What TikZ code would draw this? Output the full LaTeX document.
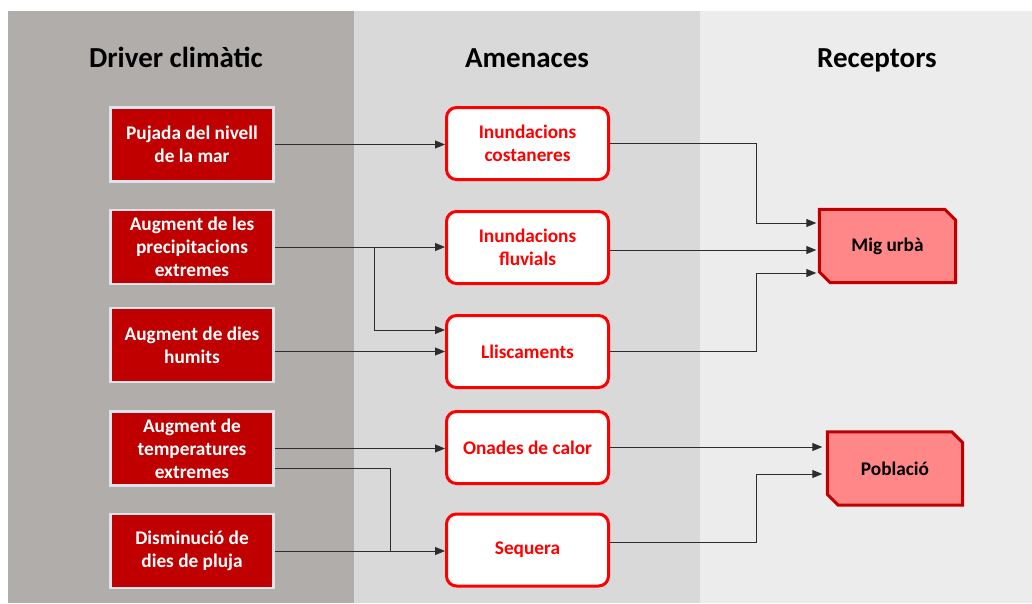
\documentclass[tikz,border=0pt]{standalone}
\usepackage{fontspec}
\setmainfont{Carlito}
\usetikzlibrary{arrows.meta,backgrounds}

\definecolor{leftbg}{RGB}{176,173,171}
\definecolor{midbg}{RGB}{217,217,217}
\definecolor{rightbg}{RGB}{236,236,236}
\definecolor{drvred}{RGB}{192,0,0}
\definecolor{drvedge}{RGB}{222,227,234}
\definecolor{hazred}{RGB}{255,0,0}
\definecolor{recfill}{RGB}{255,135,135}
\definecolor{recedge}{RGB}{192,0,0}
\definecolor{linegrey}{RGB}{45,45,45}

\newcommand\boxfont{\bfseries\fontsize{19.3}{23}\selectfont}
\newcommand\headfont{\bfseries\fontsize{29}{33}\selectfont}

\begin{document}
\begin{tikzpicture}[x=1pt,y=-1pt,
  driver/.style={draw=drvedge, line width=2.5pt, fill=drvred, text=white,
    minimum width=163pt, minimum height=74pt, inner sep=2pt, align=center, font=\boxfont},
  hazard/.style={draw=hazred, line width=3pt, fill=white, rounded corners=10pt,
    text=hazred, minimum width=162pt, minimum height=72pt, inner sep=2pt,
    align=center, font=\boxfont},
  receptor/.style={minimum height=73pt, inner sep=2pt, font=\boxfont},
  snip/.style={draw=recedge, line width=3pt, fill=recfill, line join=miter},
  heading/.style={font=\headfont, anchor=base},
  link/.style={draw=linegrey, line width=0.9pt},
  arrow/.style={link, -{Triangle[length=10pt,width=8pt]}},
]
\useasboundingbox (0,0) rectangle (1032,603);

% column headings
\node[heading] (tdrv) at (176,67) {Driver climàtic};
\node[heading] (thaz) at (527,67) {Amenaces};
\node[heading] (trec) at (877,67) {Receptors};

% climate drivers
\node[driver] (d1) at (192,144.5) {Pujada del nivell\\de la mar};
\node[driver] (d2) at (192,247) {Augment de les\\precipitacions\\extremes};
\node[driver] (d3) at (192,345) {Augment de dies\\humits};
\node[driver] (d4) at (192,448.5) {Augment de\\temperatures\\extremes};
\node[driver] (d5) at (192,551) {Disminució de\\dies de pluja};

% hazards
\node[hazard] (h1) at (527.5,143.5) {Inundacions\\costaneres};
\node[hazard] (h2) at (527.5,247.5) {Inundacions\\fluvials};
\node[hazard] (h3) at (527.5,351.5) {Lliscaments};
\node[hazard] (h4) at (527.5,447.5) {Onades de calor};
\node[hazard] (h5) at (527.5,550) {Sequera};

% receptors
\node[receptor, minimum width=136pt] (mig) at (887.5,246) {Mig urbà};
\node[receptor, minimum width=135pt] (pob) at (895,468.5) {Població};

\begin{scope}[on background layer]
  \fill[white] (0,0) rectangle (1032,603);
  \fill[leftbg] (8,11) rectangle (354,603);
  \fill[midbg] (354,11) rectangle (700,603);
  \fill[rightbg] (700,11) rectangle (1032,603);
  \draw[snip] (mig.north west) -- ([xshift=-11pt]mig.north east)
    -- ([yshift=-11pt]mig.north east) -- (mig.south east)
    -- ([xshift=11pt]mig.south west) -- ([yshift=11pt]mig.south west) -- cycle;
  \draw[snip] (pob.north west) -- ([xshift=-11pt]pob.north east)
    -- ([yshift=-11pt]pob.north east) -- (pob.south east)
    -- ([xshift=11pt]pob.south west) -- ([yshift=11pt]pob.south west) -- cycle;
\end{scope}

% junction columns
\coordinate (jp) at (374,0);
\coordinate (jt) at (390,0);
\coordinate (jr) at (756,0);
\coordinate (h3up) at ([yshift=21.5pt]h3.west);
\coordinate (d4low) at ([yshift=-20pt]d4.east);
\coordinate (h5out) at ([yshift=8pt]h5.east);
\coordinate (mig1) at ([yshift=23pt]mig.west);
\coordinate (mig2) at ([yshift=-4pt]mig.west);
\coordinate (mig3) at ([yshift=-27pt]mig.west);
\coordinate (pob1) at ([yshift=21.5pt]pob.west);
\coordinate (pob2) at ([yshift=-5.5pt]pob.west);

% drivers to hazards
\draw[arrow] (d1.east) -- (d1.east -| h1.west);
\draw[arrow] (d2.east) -- (d2.east -| h2.west);
\draw[arrow] (d2.east -| jp) |- (h3up);
\draw[arrow] (d3.east |- h3.west) -- (h3.west);
\draw[arrow] (d4.east) -- (d4.east -| h4.west);
\draw[link] (d4low) -| (jt |- d5.east);
\draw[arrow] (d5.east) -- (d5.east -| h5.west);

% hazards to receptors
\draw[arrow, shorten >=3pt] (h1.east) -| (jr |- mig1) -- (mig1);
\draw[arrow, shorten >=3pt] (h2.east |- mig2) -- (mig2);
\draw[arrow, shorten >=3pt] (h3.east) -| (jr |- mig3) -- (mig3);
\draw[arrow, shorten >=5pt] (h4.east |- pob1) -- (pob1);
\draw[arrow, shorten >=5pt] (h5out) -| (jr |- pob2) -- (pob2);
\end{tikzpicture}
\end{document}
